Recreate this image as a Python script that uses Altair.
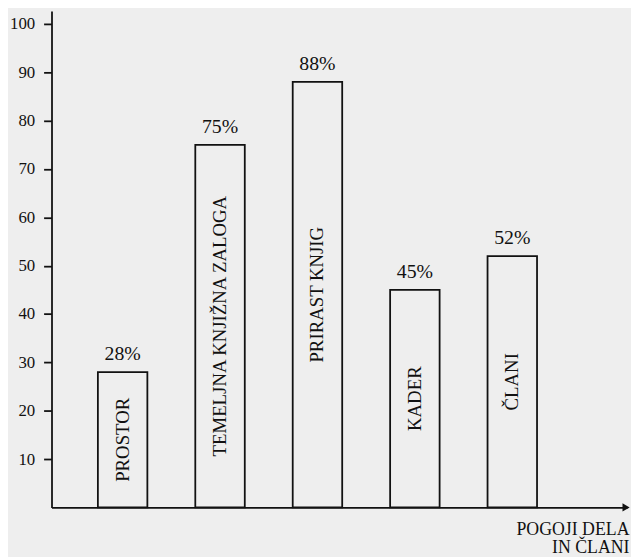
import altair as alt
import pandas as pd

categories = ["PROSTOR", "TEMELJNA KNJIŽNA ZALOGA", "PRIRAST KNJIG", "KADER", "ČLANI"]
values = [28, 75, 88, 45, 52]
y_ticks = [10, 20, 30, 40, 50, 60, 70, 80, 90, 100]
x_title_lines = ["POGOJI DELA", "IN ČLANI"]

df = pd.DataFrame({"cat": categories, "val": values})

W, H = 582, 502
ink = "#111111"
paper = "#eeeeee"
font = "Liberation Serif"

x_enc = alt.X(
    "cat:N",
    sort=categories,
    scale=alt.Scale(paddingInner=0.492, paddingOuter=0.7, align=0.34),
    axis=alt.Axis(
        title=x_title_lines, labels=False, ticks=False,
        domainColor=ink, domainWidth=1.8,
        titleAnchor="end", titleAlign="right", titleFont=font,
        titleFontSize=18, titleFontWeight="normal", titleColor=ink,
        titlePadding=13, titleLineHeight=19, titleX=W + 2,
    ),
)
y_scale = alt.Scale(domain=[0, 102.66], nice=False, zero=True)

bars = alt.Chart(df).mark_bar(
    fillOpacity=0, stroke=ink, strokeWidth=1.8
).encode(
    x=x_enc,
    y=alt.Y(
        "val:Q", scale=y_scale,
        axis=alt.Axis(
            values=y_ticks, title=None, grid=False,
            domainColor=ink, domainWidth=1.8,
            tickColor=ink, tickSize=8, tickWidth=1.8,
            labelFont=font, labelFontSize=17, labelColor=ink,
            labelPadding=9,
        ),
    ),
)

pct = alt.Chart(df).transform_calculate(
    label="datum.val + '%'"
).mark_text(
    baseline="bottom", dy=-8, font=font, fontSize=20, color=ink
).encode(
    x=alt.X("cat:N", sort=categories),
    y=alt.Y("val:Q", scale=y_scale),
    text="label:N",
)

names = alt.Chart(df).transform_calculate(
    mid="datum.val / 2"
).mark_text(
    angle=270, align="center", baseline="middle", font=font, fontSize=19, color=ink
).encode(
    x=alt.X("cat:N", sort=categories),
    y=alt.Y("mid:Q", scale=y_scale),
    text="cat:N",
)

arrow = alt.Chart(pd.DataFrame({"a": [0]})).mark_point(
    shape="triangle-right", filled=True, size=70, color=ink, opacity=1
).encode(
    x=alt.value(W - 1),
    y=alt.value(H),
)

chart = alt.layer(bars, pct, names, arrow).properties(
    width=W, height=H,
    background=paper,
    padding={"left": 44, "top": 0, "right": 4, "bottom": 47},
    autosize=alt.AutoSizeParams(type="none"),
).configure_view(stroke=None)

chart.save("out.html", embed_options={"renderer": "svg", "actions": False})
